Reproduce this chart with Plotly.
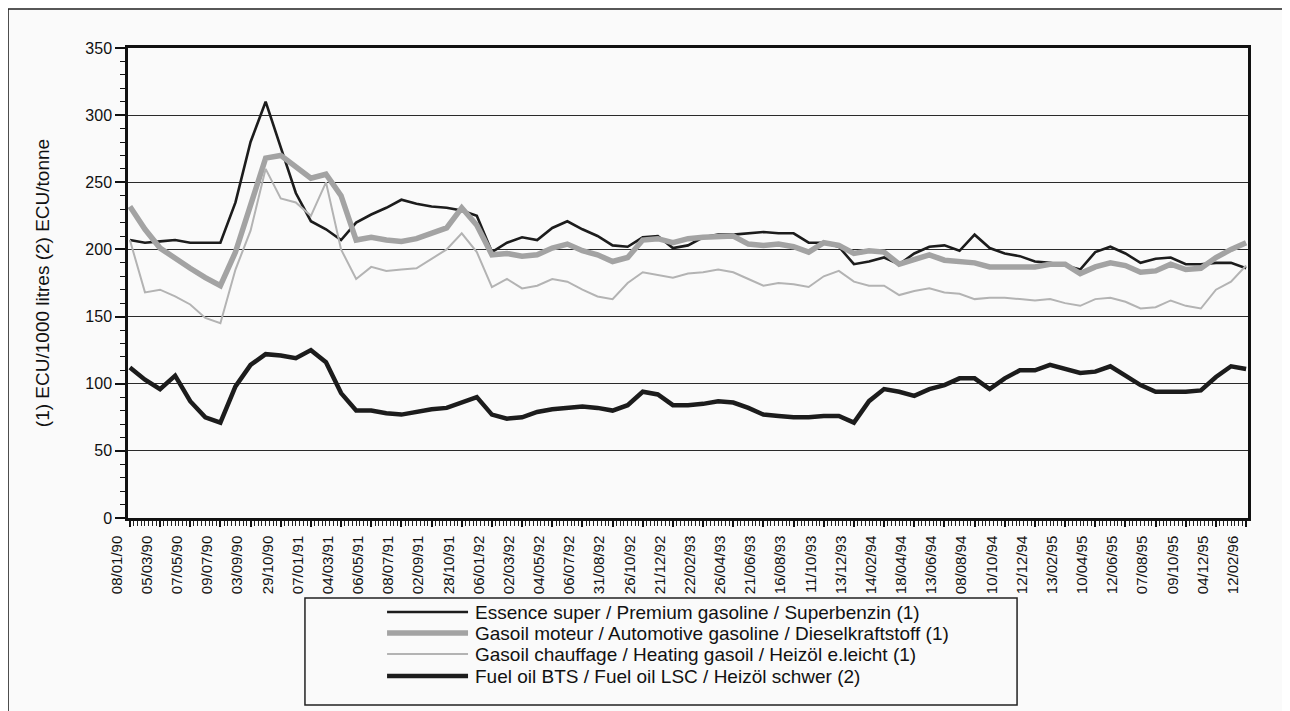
import plotly.graph_objects as go

# ---- data (weekly category axis, sampled every 4th week) ----
week_index = list(range(0, 297, 4))

tick_labels = [
    "08/01/90", "05/03/90", "07/05/90", "09/07/90", "03/09/90", "29/10/90",
    "07/01/91", "04/03/91", "06/05/91", "08/07/91", "02/09/91", "28/10/91",
    "06/01/92", "02/03/92", "04/05/92", "06/07/92", "31/08/92", "26/10/92",
    "21/12/92", "22/02/93", "26/04/93", "21/06/93", "16/08/93", "11/10/93",
    "13/12/93", "14/02/94", "18/04/94", "13/06/94", "08/08/94", "10/10/94",
    "12/12/94", "13/02/95", "10/04/95", "12/06/95", "07/08/95", "09/10/95",
    "04/12/95", "12/02/96",
]
tick_index = list(range(0, 297, 8))

essence_super = [
    207, 205, 206, 207, 205, 205, 205, 235, 280, 310, 276, 242, 221, 215, 207,
    220, 226, 231, 237, 234, 232, 231, 229, 225, 198, 205, 209, 207, 216, 221,
    215, 210, 203, 202, 209, 210, 201, 203, 209, 211, 211, 212, 213, 212, 212,
    205, 205, 202, 189, 191, 194, 189, 197, 202, 203, 199, 211, 201, 197, 195,
    191, 190, 188, 185, 198, 202, 197, 190, 193, 194, 189, 189, 190, 190, 186,
]
gasoil_moteur = [
    232, 215, 201, 193, 186, 179, 173, 198, 232, 268, 270, 262, 253, 256, 240,
    207, 209, 207, 206, 208, 212, 216, 231, 218, 196, 197, 195, 196, 201, 204,
    199, 196, 191, 194, 207, 208, 205, 208, 209, 210, 210, 204, 203, 204, 202,
    198, 205, 203, 197, 199, 198, 189, 193, 196, 192, 191, 190, 187, 187, 188,
    187, 189, 189, 182, 187, 190, 188, 183, 184, 189, 185, 186, 194, 200, 205,
]
gasoil_chauffage = [
    207, 168, 170, 165, 159, 149, 145, 185, 214, 260, 238, 235, 225, 250, 200,
    178, 187, 184, 185, 186, 193, 200, 212, 198, 172, 178, 171, 173, 178, 176,
    170, 165, 163, 175, 183, 181, 179, 182, 183, 185, 183, 178, 173, 175, 174,
    172, 180, 184, 176, 173, 173, 166, 169, 171, 168, 167, 163, 164, 164, 163,
    162, 163, 160, 158, 163, 164, 161, 156, 157, 162, 158, 156, 170, 176, 188,
]
fuel_oil = [
    112, 103, 96, 106, 87, 75, 71, 98, 114, 122, 121, 119, 125, 116, 93,
    80, 80, 78, 77, 79, 81, 82, 86, 90, 77, 74, 75, 79, 81, 82,
    83, 82, 80, 84, 94, 92, 84, 84, 85, 87, 86, 82, 77, 76, 75,
    75, 76, 76, 71, 87, 96, 94, 91, 96, 99, 104, 104, 96, 104, 110,
    110, 114, 111, 108, 109, 113, 106, 99, 94, 94, 94, 95, 105, 113, 111,
]

series_names = [
    "Essence super / Premium gasoline / Superbenzin (1)",
    "Gasoil moteur / Automotive gasoline / Dieselkraftstoff (1)",
    "Gasoil chauffage / Heating gasoil / Heizöl e.leicht (1)",
    "Fuel oil BTS / Fuel oil LSC / Heizöl schwer (2)",
]
y_title = "(1) ECU/1000 litres (2) ECU/tonne"

FONT = "Liberation Sans, Arial, sans-serif"
INK = "#111111"

styles = [
    dict(color="#1c1c1c", width=2.6),
    dict(color="#a3a3a3", width=5.5),
    dict(color="#b3b3b3", width=2),
    dict(color="#1c1c1c", width=4.5),
]

fig = go.Figure()
for name, vals, st in zip(series_names,
                          [essence_super, gasoil_moteur, gasoil_chauffage, fuel_oil],
                          styles):
    fig.add_trace(go.Scatter(x=week_index, y=vals, mode="lines", name=name,
                             line=st, showlegend=False))

# ---- legend drawn in a boxed panel below the axis (paper coordinates) ----
legend_rows_y = [-0.200, -0.2447, -0.2894, -0.3362]
shapes = [
    # outer frame
    dict(type="rect", xref="paper", yref="paper",
         x0=-0.1071, x1=1.0312, y0=-0.42, y1=1.083,
         line=dict(color="#222222", width=1.5)),
    # legend box
    dict(type="rect", xref="paper", yref="paper",
         x0=0.158, x1=0.7938, y0=-0.398, y1=-0.1702,
         line=dict(color="#222222", width=1.5)),
]
annotations = []
for name, st, ly in zip(series_names, styles, legend_rows_y):
    shapes.append(dict(type="line", xref="paper", yref="paper",
                       x0=0.2313, x1=0.3036, y0=ly, y1=ly, line=st))
    annotations.append(dict(xref="paper", yref="paper", x=0.308, y=ly,
                            xanchor="left", yanchor="middle", showarrow=False,
                            text=name,
                            font=dict(family=FONT, size=19, color=INK)))

fig.update_layout(
    width=1290, height=711,
    margin=dict(l=120, r=50, t=40, b=201),
    paper_bgcolor="#fafafa", plot_bgcolor="#fafafa",
    font=dict(family=FONT, color=INK, size=15),
    showlegend=False,
    shapes=shapes,
    annotations=annotations,
)

fig.update_xaxes(
    range=[-0.5, 296.5],
    tickmode="array", tickvals=tick_index, ticktext=tick_labels,
    tickangle=-90, ticks="outside", ticklen=6, tickwidth=1.5, tickcolor=INK,
    ticklabelshift=-13, ticklabelstandoff=3,
    tickfont=dict(family=FONT, size=15, color=INK),
    minor=dict(tickmode="linear", tick0=0, dtick=1, ticks="outside",
               ticklen=5, tickwidth=1, tickcolor="#222222", showgrid=False),
    showgrid=False, zeroline=False,
    showline=True, linecolor=INK, linewidth=2.5, mirror=True,
)
fig.update_yaxes(
    range=[0, 350], tickmode="linear", tick0=0, dtick=50,
    ticks="outside", ticklen=10, tickwidth=1.5, tickcolor=INK,
    tickfont=dict(family=FONT, size=16, color=INK),
    minor=dict(tickmode="linear", tick0=0, dtick=10, ticks="outside",
               ticklen=5, tickwidth=1.2, tickcolor=INK, showgrid=False),
    showgrid=True, gridcolor="#2a2a2a", gridwidth=1.2,
    zeroline=False,
    showline=True, linecolor=INK, linewidth=2.5, mirror=True,
    title=dict(text=y_title, font=dict(family=FONT, size=19, color=INK),
               standoff=31),
)

fig.write_html("out.html")
